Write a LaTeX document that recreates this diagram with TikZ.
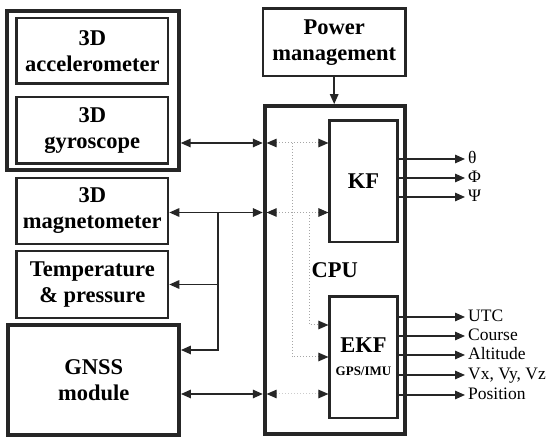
\documentclass[tikz,border=0pt]{standalone}
\usepackage{fontspec}
\setmainfont{Liberation Serif}
\usetikzlibrary{arrows.meta}

\begin{document}
\begin{tikzpicture}[
  x=1pt, y=-1pt,
  box/.style={draw=black!85, line width=2.5pt, rectangle, align=center, inner sep=0pt,
              font=\bfseries\fontsize{22.5}{26}\selectfont},
  bigbox/.style={box, line width=3.8pt},
  outlbl/.style={anchor=west, inner sep=3pt, font=\fontsize{17.5}{19}\selectfont,
                 text height=11.5pt, text depth=3pt},
  wire/.style={draw=black!85, line width=1.5pt, >={Triangle[length=10pt,width=8.5pt]}},
  dotwire/.style={draw=gray!70, dotted, line width=1pt,
                  >={Triangle[length=10pt,width=8.5pt,color=black!85]}},
  >={Triangle[length=10pt,width=8.5pt]}
]
  \useasboundingbox (0,0) rectangle (550,443);

  \node[bigbox, minimum width=172pt, minimum height=159pt] (imu) at (92.8,90.5) {};
  \node[box, minimum width=151.5pt, minimum height=65.5pt] (acc)  at (92.3,50.8)  {3D\\accelerometer};
  \node[box, minimum width=151.5pt, minimum height=66.5pt] (gyro) at (92.3,130.3) {3D\\gyroscope};
  \node[box, minimum width=151.5pt, minimum height=66pt]   (mag)  at (92.3,211)   {3D\\magnetometer};
  \node[box, minimum width=151.5pt, minimum height=67pt]   (temp) at (92.3,284.5) {Temperature\\\& pressure};
  \node[bigbox, minimum width=170.7pt, minimum height=109.7pt] (gnss) at (93.7,380.2) {GNSS\\module};

  \node[box, minimum width=142.3pt, minimum height=67.3pt] (power) at (334.2,42.3) {Power\\management};
  \node[bigbox, minimum width=140pt, minimum height=328pt] (cpu) at (334.7,270) {CPU};
  \node[box, minimum width=67.6pt, minimum height=121.3pt] (kf)  at (363.5,181.3) {KF};
  \node[box, minimum width=67.6pt, minimum height=121.7pt] (ekf) at (363.5,357.2)
       {EKF\\[-3pt]{\fontsize{13}{14}\selectfont GPS/IMU}};

  \coordinate (r1) at (0,143);
  \coordinate (r2) at (0,212.5);
  \coordinate (r3) at (0,394);
  \coordinate (r4) at (0,350);
  \coordinate (br) at (218,212.5);
  \coordinate (cin) at ([xshift=3.8pt]cpu.west);
  \coordinate (d1) at (292,143);
  \coordinate (d2) at (309,212.5);

  \draw[wire, <->] (imu.east |- r1) -- (cpu.west |- r1);
  \draw[wire, <->] (mag.east |- r2) -- (cpu.west |- r2);
  \draw[wire, <->] (gnss.east |- r3) -- (cpu.west |- r3);
  \draw[wire, ->] (br) |- (gnss.east |- r4);
  \draw[wire, ->] (br |- temp) -- (temp.east);
  \draw[wire, ->] (power.south) -- (power.south |- cpu.north);

  \draw[dotwire, <->] (cin |- r1) -- (kf.west |- r1);
  \draw[dotwire, <->] (cin |- r2) -- (kf.west |- r2);
  \draw[dotwire, draw=gray!40, <->] (cin |- r3) -- (ekf.west |- r3);
  \draw[dotwire, ->] (d1) |- (ekf.west |- 0,357);
  \draw[dotwire, ->] (d2) |- (ekf.west |- 0,325);

  \node[outlbl] (theta) at (465,159) {θ};
  \node[outlbl] (phi)   at (465,178) {Φ};
  \node[outlbl] (psi)   at (465,197) {Ψ};
  \node[outlbl] (utc)   at (465,317) {UTC};
  \node[outlbl] (crs)   at (465,336) {Course};
  \node[outlbl] (alt)   at (465,355) {Altitude};
  \node[outlbl] (vel)   at (465,375) {Vx, Vy, Vz};
  \node[outlbl] (pos)   at (465,395) {Position};

  \foreach \o in {theta,phi,psi}
    \draw[wire, ->] (kf.east |- \o) -- (\o.west);
  \foreach \o in {utc,crs,alt,vel,pos}
    \draw[wire, ->] (ekf.east |- \o) -- (\o.west);
\end{tikzpicture}
\end{document}
